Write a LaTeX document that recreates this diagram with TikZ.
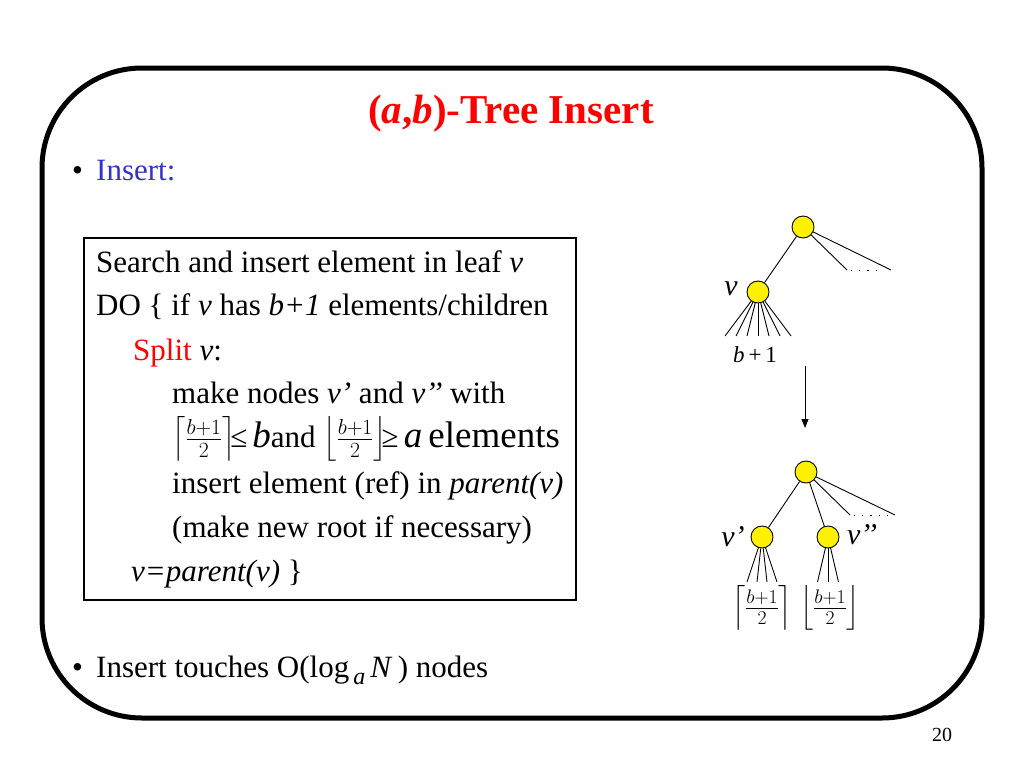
\RequirePackage{fix-cm}
\documentclass[tikz,border=0pt]{standalone}
\usepackage{fontspec}
\setmainfont{Liberation Serif}
\usepackage{amsmath}
\usetikzlibrary{arrows.meta,calc}
\definecolor{titlered}{RGB}{255,0,0}
\definecolor{itemblue}{RGB}{51,51,204}
\newcommand{\grand}[1]{{\fontsize{37}{40}\selectfont #1}}

\begin{document}
\begin{tikzpicture}[x=1pt,y=-1pt,
    txt/.style={anchor=base west,inner sep=0pt,font=\fontsize{31}{36}\selectfont},
    bul/.style={anchor=base west,inner sep=0pt,font=\fontsize{31}{36}\selectfont},
    knot/.style={circle,draw,fill=yellow,minimum size=22pt,inner sep=0pt,line width=0.9pt},
    twig/.style={line width=0.9pt},
    lbl/.style={inner sep=0pt,font=\fontsize{30}{34}\selectfont\itshape}]
        \useasboundingbox (0,0) rectangle (1024,768);

        % Cadre et titre
        \draw[line width=5pt,rounded corners=100pt] (42,68) rectangle (982,718);
        \node[anchor=base,inner sep=0pt,text=titlered,
              font=\fontsize{41}{46}\selectfont\bfseries] (titre) at (511,123) {(\textit{a},\textit{b})-Tree Insert};
        \node[bul] (p1) at (72,180) {\textbullet};
        \node[bul,text=itemblue] (insert) at (96,180) {Insert:};

        % Algorithme
        \node[draw,line width=1.8pt,minimum width=492pt,minimum height=362pt,inner sep=0pt] (algo) at (330,419) {};
        \node[txt] (l1) at (96,272) {Search and insert element in leaf \textit{v}};
        \node[txt] (l2) at (96,315) {DO \{ if \textit{v} has \textit{b+1} elements/children};
        \node[txt] (l3) at (133,360) {\textcolor{titlered}{Split} \textit{v}:};
        \node[txt] (l4) at (172,403) {make nodes \textit{v’} and \textit{v’’} with};
        \node[txt] (l5) at (172,447) {$\left\lceil\frac{b+1}{2}\right\rceil$\!≤\,\grand{\textit{b}}and $\left\lfloor\frac{b+1}{2}\right\rfloor$\!≥\,\grand{\textit{a}\,elements}};
        \node[txt] (l6) at (172,493) {insert element (ref) in \textit{parent(v)}};
        \node[txt] (l7) at (172,537) {(make new root if necessary)};
        \node[txt] (l8) at (131,581) {\textit{v=parent(v)} \}};

        \node[bul] (p2) at (72,677) {\textbullet};
        \node[bul] (touches) at (96,677) {Insert touches O(log\raisebox{-7pt}{\fontsize{24}{28}\selectfont\,\textit{a}}\,\textit{N}\,) nodes};
        \node[inner sep=0pt,font=\fontsize{20}{24}\selectfont] (num) at (942,735) {20};

        % Avant la division
        \node[knot] (r1) at (803,227) {};
        \node[knot] (v) at (758,292) {};
        \coordinate (d1) at (847,270);
        \coordinate (d2) at (891,270);
        \draw[twig] (r1) -- (v);
        \draw[twig] (r1) -- (d1);
        \draw[twig] (r1) -- (d2);
        \draw[twig,dash pattern=on 1.2pt off 7pt] ($(d1)+(4,0)$) -- ($(d2)+(-8,0)$);
        \foreach \i in {0,...,6}
            \draw[twig] (v) -- ($(v)+(-33+11*\i,44)$);
        \node[lbl] (vl) at (731,289) {v};
        \node[inner sep=0pt,font=\fontsize{23}{26}\selectfont] (bp) at (755,355) {\textit{b}\,+\,1};

        % Fleche
        \coordinate (a1) at (805,366);
        \coordinate (a2) at (805,428);
        \draw[twig,-{Triangle[length=9pt,width=7pt]}] (a1) -- (a2);

        % Apres la division
        \node[knot] (r2) at (806,472) {};
        \node[knot] (v1) at (762,537) {};
        \node[knot] (v2) at (828,537) {};
        \coordinate (d3) at (850,515);
        \coordinate (d4) at (895,515);
        \draw[twig] (r2) -- (v1);
        \draw[twig] (r2) -- (v2);
        \draw[twig] (r2) -- (d3);
        \draw[twig] (r2) -- (d4);
        \draw[twig,dash pattern=on 1.2pt off 7pt] ($(d3)+(4,0)$) -- ($(d4)+(-8,0)$);
        \foreach \i in {0,...,3}
            \draw[twig] (v1) -- ($(v1)+(-15+10*\i,45)$);
        \foreach \i in {0,...,2}
            \draw[twig] (v2) -- ($(v2)+(-10.5+10.5*\i,45)$);
        \node[lbl] (v1l) at (733,537) {v’};
        \node[lbl] (v2l) at (862,535) {v’’};
        \node[inner sep=0pt,font=\fontsize{28}{30}\selectfont] (ceil) at (762,608) {$\left\lceil\frac{b+1}{2}\right\rceil$};
        \node[inner sep=0pt,font=\fontsize{28}{30}\selectfont] (floor) at (830,608) {$\left\lfloor\frac{b+1}{2}\right\rfloor$};
\end{tikzpicture}
\end{document}
